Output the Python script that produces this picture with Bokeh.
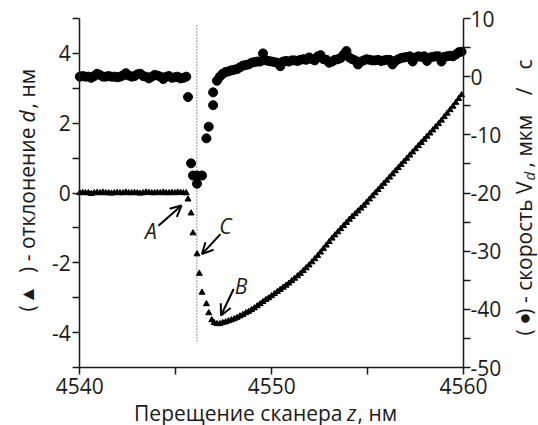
import numpy as np
from bokeh.plotting import figure
from bokeh.models import (Range1d, LinearAxis, FixedTicker, Label, Arrow, OpenHead,
                          ColumnDataSource, CustomJSTickFormatter)
from bokeh.embed import file_html
from bokeh.resources import INLINE

FONT = "Open Sans"
INK = "#1a1a1a"

# ---------------- data ----------------
STEP = 0.15
# deflection d (triangles, left axis, nm)
d_flat_start = 4540.0
d_flat = [0.0, 0.01, 0.0, 0.0, -0.02, 0.0, 0.01, 0.0, 0.02, 0.0, 0.0, -0.01, 0.0,
          0.01, 0.0, 0.0, 0.02, 0.0, 0.0, 0.01, 0.0, -0.01, 0.0, 0.02, 0.01, 0.0,
          0.0, 0.01, 0.0, 0.02, 0.0, 0.0, 0.01, 0.0, 0.02, 0.01, 0.0, 0.0]
d_jump_z = [4545.64, 4545.80, 4545.90, 4546.11, 4546.23, 4546.37, 4546.60, 4546.72, 4546.88]
d_jump = [-0.18, -0.58, -1.15, -1.75, -2.31, -2.85, -3.18, -3.44, -3.64]
d_ramp_start = 4547.0
d_ramp = [-3.72, -3.75, -3.75, -3.72, -3.70, -3.67, -3.64, -3.61, -3.57, -3.53,
          -3.49, -3.44, -3.40, -3.35, -3.30, -3.24, -3.18, -3.12, -3.06, -3.01,
          -2.95, -2.89, -2.83, -2.77, -2.71, -2.65, -2.59, -2.52, -2.45, -2.38,
          -2.31, -2.23, -2.15, -2.07, -1.98, -1.89, -1.80, -1.70, -1.60, -1.50,
          -1.40, -1.30, -1.21, -1.12, -1.03, -0.94, -0.85, -0.76, -0.68, -0.60,
          -0.52, -0.44, -0.36, -0.27, -0.18, -0.09, 0.00, 0.09, 0.18, 0.27,
          0.36, 0.45, 0.54, 0.63, 0.72, 0.81, 0.90, 0.99, 1.08, 1.17,
          1.26, 1.35, 1.44, 1.53, 1.62, 1.71, 1.80, 1.89, 1.98, 2.08,
          2.18, 2.28, 2.38, 2.48, 2.59, 2.70, 2.81]

# velocity V_d (circles, right axis, um/s)
v_flat_start = 4540.0
v_flat = [0.0, 0.1, 0.0, 0.0, -0.2, 0.1, 0.5, 0.3, 0.0, 0.0, 0.1, 0.0, 0.0,
          -0.1, 0.0, 0.2, 0.6, 0.2, 0.0, 0.1, 0.4, 0.5, 0.1, 0.0, -0.3, 0.0,
          0.3, 0.2, 0.0, -0.4, 0.0, 0.1, -0.2, -0.1, 0.0, -0.3, -0.2, 0.0]
v_jump_z = [4545.64, 4545.80, 4545.90, 4546.11, 4546.11, 4546.37, 4546.60, 4546.72, 4546.95, 4546.95]
v_jump = [-3.5, -14.9, -17.0, -17.0, -18.4, -17.0, -10.6, -8.6, -4.9, -2.7]
v_ramp_start = 4547.15
v_ramp = [-0.7, 0.0, 0.5, 0.8, 0.9, 1.1, 1.2, 1.3, 1.6, 1.9,
          2.0, 2.1, 2.4, 2.5, 2.6, 2.6, 4.0, 2.8, 2.7, 2.6,
          2.5, 2.4, 1.8, 2.6, 2.7, 2.6, 2.8, 2.8, 2.7, 2.9,
          3.0, 2.9, 3.3, 3.0, 2.8, 3.5, 3.7, 3.0, 2.9, 2.4,
          2.6, 2.9, 3.0, 3.2, 3.8, 4.4, 3.3, 3.0, 2.8, 2.1,
          2.6, 2.8, 3.0, 2.9, 2.8, 2.8, 2.9, 2.7, 2.8, 2.9,
          2.9, 2.1, 2.7, 3.0, 3.2, 3.3, 3.4, 3.5, 2.6, 3.3,
          3.5, 3.4, 3.5, 2.7, 3.3, 3.4, 3.5, 3.5, 2.6, 3.4,
          3.5, 3.6, 3.5, 3.8, 4.2, 4.3]

contact_z = 4546.1

x_bounds = (4540, 4560)
d_bounds = (-5, 5)
v_bounds = (-50, 10)
x_ticks = [4540, 4550, 4560]
x_minor = [4545, 4555]
d_ticks = [-4, -2, 0, 2, 4]
d_minor = [-5, -3, -1, 1, 3, 5]
v_ticks = [-50, -40, -30, -20, -10, 0, 10]
v_minor = [-45, -35, -25, -15, -5, 5]

# ---------------- build sources ----------------
def grid(start, n):
    return list(np.round(start + STEP * np.arange(n), 3))

d_z = grid(d_flat_start, len(d_flat)) + d_jump_z + grid(d_ramp_start, len(d_ramp))
d_v = d_flat + d_jump + d_ramp
v_z = grid(v_flat_start, len(v_flat)) + v_jump_z + grid(v_ramp_start, len(v_ramp))
v_v = v_flat + v_jump + v_ramp

src_d = ColumnDataSource(dict(z=d_z, d=d_v))
src_v = ColumnDataSource(dict(z=v_z, v=v_v))

# canvas = whole window; axes are pinned inside with fixed_location
W, H = 538, 425
L, R, T, B = 79.3, 463.0, 18.0, 367.0   # plot box in pixels
xpp = (x_bounds[1] - x_bounds[0]) / (R - L)
dpp = (d_bounds[1] - d_bounds[0]) / (B - T)
vpp = (v_bounds[1] - v_bounds[0]) / (B - T)
x_rng = Range1d(x_bounds[0] - L * xpp, x_bounds[1] + (W - R) * xpp)
d_rng = Range1d(d_bounds[0] - (H - B) * dpp, d_bounds[1] + T * dpp)
v_rng = Range1d(v_bounds[0] - (H - B) * vpp, v_bounds[1] + T * vpp)

def px_x(px):      # horizontal pixel -> data x (for text placement)
    return x_bounds[0] + (px - L) * xpp

def px_y(py):      # vertical pixel -> left-axis data
    return d_bounds[1] - (py - T) * dpp

p = figure(width=W, height=H, output_backend="svg", toolbar_location=None,
           x_range=x_rng, y_range=d_rng, min_border=0)
p.extra_y_ranges = {"v": v_rng}
p.xgrid.visible = False
p.ygrid.visible = False
p.outline_line_color = None
p.background_fill_color = "white"
p.border_fill_color = "white"

fmt = CustomJSTickFormatter(code="return String(tick);")

def style(ax, ticks, minor, standoff, loc, bounds):
    ax.ticker = FixedTicker(ticks=ticks, minor_ticks=minor)
    ax.formatter = fmt
    ax.fixed_location = loc
    ax.bounds = bounds
    ax.axis_line_color = INK
    ax.axis_line_width = 1.5
    ax.major_tick_line_color = INK
    ax.minor_tick_line_color = INK
    ax.major_tick_line_width = 1.5
    ax.minor_tick_line_width = 1.5
    ax.major_tick_out = 7
    ax.major_tick_in = 0
    ax.minor_tick_out = 7
    ax.minor_tick_in = 0
    ax.major_label_text_font = FONT
    ax.major_label_text_font_size = "21px"
    ax.major_label_text_color = INK
    ax.major_label_standoff = standoff

style(p.xaxis[0], x_ticks, x_minor, 3, d_bounds[0], x_bounds)
style(p.yaxis[0], d_ticks, d_minor, 2, x_bounds[0], d_bounds)
rax = LinearAxis(y_range_name="v")
style(rax, v_ticks, v_minor, 0, x_bounds[1], v_bounds)
p.add_layout(rax, "right")

# contact line
p.segment(x0=[contact_z], y0=[4.8], x1=[contact_z], y1=[-4.25],
          line_color="#333333", line_width=1, line_dash="1 2")

p.scatter("z", "v", source=src_v, y_range_name="v", marker="circle", size=9,
          fill_color="black", line_color="black")
p.scatter("z", "d", source=src_d, marker="triangle", size=6,
          fill_color="black", line_color="black")

# annotations
def arrow(xs, ys, xe, ye):
    p.add_layout(Arrow(end=OpenHead(size=11, line_width=2, line_color="black"),
                       x_start=xs, y_start=ys, x_end=xe, y_end=ye,
                       line_width=2, line_color="black"))

arrow(4544.1, -0.94, 4545.3, -0.36)
arrow(4547.33, -1.18, 4546.37, -1.75)
arrow(4548.02, -2.75, 4547.36, -3.51)

def lab(x, y, t, size="21px", **kw):
    opts = dict(text_font=FONT, text_font_size=size, text_color=INK,
                text_align="center", text_baseline="middle")
    opts.update(kw)
    p.add_layout(Label(x=x, y=y, text=t, **opts))

lab(4543.7, -1.09, "A", text_font_style="italic")
lab(4547.59, -0.94, "C", text_font_style="italic")
lab(4548.4, -2.66, "B", text_font_style="italic")

# x axis title: "Перещение сканера z, нм" (z italic)
ty = px_y(412)
lab(px_x(342), ty, "Перещение сканера", text_align="right")
lab(px_x(346.5), ty, "z", text_align="left", text_font_style="italic")
lab(px_x(357), ty, ", нм", text_align="left")

# left axis title (rotated, reads upward): "(▲) - отклонение d, нм"
A90 = np.pi / 2
lx = px_x(26)
lab(lx, px_y(308), "(", angle=A90)
lab(lx, px_y(294), "▲", size="19px", angle=A90)
lab(lx, px_y(127), ") - отклонение", text_align="right", angle=A90)
lab(lx, px_y(122), "d", text_align="left", angle=A90, text_font_style="italic")
lab(lx, px_y(108), ", нм", text_align="left", angle=A90)

# right axis title (rotated): "(●) - скорость V_d, мкм / с"
rx = px_x(523)
lab(rx, px_y(332), "(", angle=A90)
lab(rx, px_y(318), "●", size="20px", angle=A90)
lab(rx, px_y(181), ") - скорость V", text_align="right", angle=A90)
lab(rx + 5 * xpp, px_y(180), "d", size="15px", text_align="left", angle=A90,
    text_font_style="italic")
lab(rx, px_y(167), ", мкм", text_align="left", angle=A90)
lab(rx, px_y(91), "/", angle=A90)
lab(rx, px_y(64), "с", angle=A90)

open("out.html", "w").write(file_html(p, INLINE))
